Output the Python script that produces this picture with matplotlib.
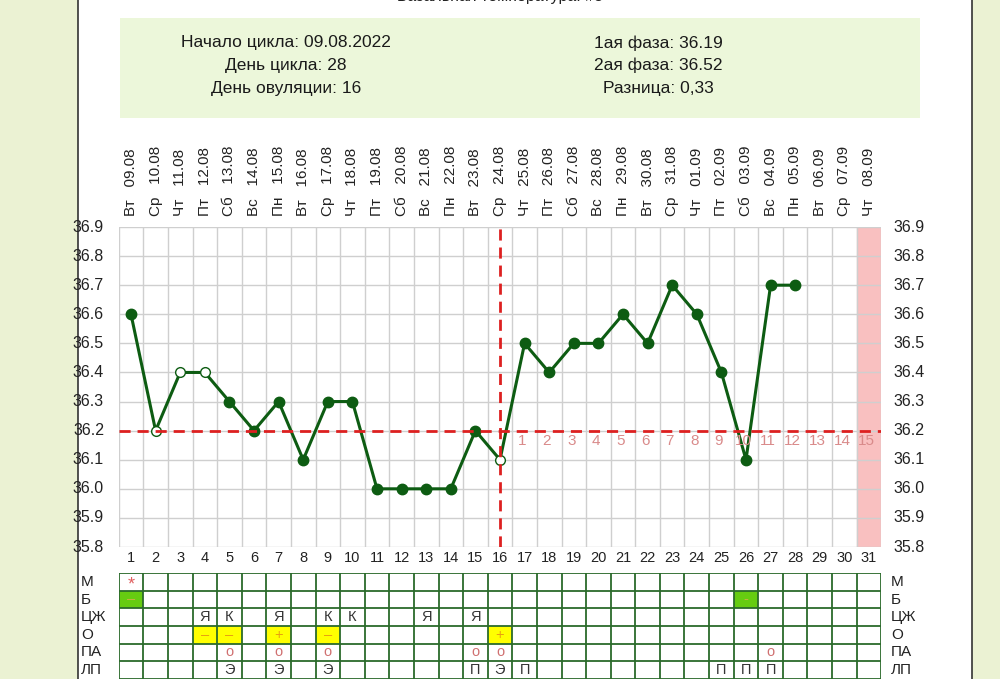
import matplotlib.pyplot as plt
from matplotlib.patches import Rectangle

plt.rcParams["font.family"] = ["Liberation Sans", "DejaVu Sans"]

# данные графика
days = list(range(1, 32))
weekdays = ["Вт", "Ср", "Чт", "Пт", "Сб", "Вс", "Пн",
            "Вт", "Ср", "Чт", "Пт", "Сб", "Вс", "Пн",
            "Вт", "Ср", "Чт", "Пт", "Сб", "Вс", "Пн",
            "Вт", "Ср", "Чт", "Пт", "Сб", "Вс", "Пн",
            "Вт", "Ср", "Чт"]
dates = ["09.08", "10.08", "11.08", "12.08", "13.08", "14.08", "15.08",
         "16.08", "17.08", "18.08", "19.08", "20.08", "21.08", "22.08",
         "23.08", "24.08", "25.08", "26.08", "27.08", "28.08", "29.08",
         "30.08", "31.08", "01.09", "02.09", "03.09", "04.09", "05.09",
         "06.09", "07.09", "08.09"]
temps = [36.6, 36.2, 36.4, 36.4, 36.3, 36.2, 36.3, 36.1, 36.3, 36.3,
         36.0, 36.0, 36.0, 36.0, 36.2, 36.1, 36.5, 36.4, 36.5, 36.5,
         36.6, 36.5, 36.7, 36.6, 36.4, 36.1, 36.7, 36.7]
open_days = [2, 3, 4, 16]
cover_line = 36.2
ovulation_day = 16
highlight_day = 31
yticks = [36.9, 36.8, 36.7, 36.6, 36.5, 36.4, 36.3, 36.2, 36.1, 36.0, 35.9, 35.8]

info_left = ["Начало цикла: 09.08.2022", "День цикла: 28", "День овуляции: 16"]
info_right = ["1ая фаза: 36.19", "2ая фаза: 36.52", "Разница: 0,33"]

row_labels = ["М", "Б", "ЦЖ", "О", "ПА", "ЛП"]
m_marks = {1: "*"}
b_marks = {1: "–", 26: "-"}
czh_marks = {4: "Я", 5: "К", 7: "Я", 9: "К", 10: "К", 13: "Я", 15: "Я"}
o_marks = {4: "–", 5: "–", 7: "+", 9: "–", 16: "+"}
pa_marks = {5: "o", 7: "o", 9: "o", 15: "o", 16: "o", 27: "o"}
lp_marks = {5: "Э", 7: "Э", 9: "Э", 15: "П", 16: "Э", 17: "П",
            25: "П", 26: "П", 27: "П"}

W, H = 1000, 679
GREEN = "#0d5c12"
RED = "#dd2020"
PINK_TXT = "#d98a8a"


def fx(x):
    return x / W


def fy(y):
    return 1 - y / H


fig = plt.figure(figsize=(10, 6.79), dpi=100)
fig.patch.set_facecolor("white")

# фон страницы и рамка панели
fig.patches.append(Rectangle((0, 0), fx(78), 1, transform=fig.transFigure,
                             facecolor="#ebf2d3", edgecolor="none", zorder=0))
fig.patches.append(Rectangle((fx(972), 0), 1 - fx(972), 1, transform=fig.transFigure,
                             facecolor="#ebf2d3", edgecolor="none", zorder=0))
for xb in (78, 972):
    fig.add_artist(plt.Line2D([fx(xb), fx(xb)], [0, 1], transform=fig.transFigure,
                              color="#333333", lw=1.2))

fig.text(fx(500), fy(-3), "Базальная температура: #3", ha="center", va="center",
         fontsize=11.5, color="#222222")

# инфо-блок
fig.patches.append(Rectangle((fx(120), fy(118)), fx(920) - fx(120), fy(18) - fy(118),
                             transform=fig.transFigure, facecolor="#ecf7da",
                             edgecolor="none", zorder=0))
for i, (tl, tr) in enumerate(zip(info_left, info_right)):
    yy = fy(43 + i * 22.5)
    fig.text(fx(286), yy, tl, ha="center", va="center", fontsize=12.5, color="#1a1a1a")
    fig.text(fx(658), yy, tr, ha="center", va="center", fontsize=12.5, color="#1a1a1a")

# основной график
ax = fig.add_axes([fx(118.7), fy(547), fx(881.3) - fx(118.7), fy(227) - fy(547)])
ax.set_xlim(0.5, 31.5)
ax.set_ylim(35.8, 36.9)
for s in ax.spines.values():
    s.set_visible(False)
ax.set_xticks([])
ax.set_yticks([])

ax.axvspan(highlight_day - 0.5, highlight_day + 0.5, color="#f9c0c0", zorder=0)
for k in range(32):
    ax.axvline(k + 0.5, color="#cfcfcf", lw=1, zorder=1)
for t in yticks:
    ax.axhline(t, color="#cfcfcf", lw=1, zorder=1)

x_t = days[:len(temps)]
ax.plot(x_t, temps, color=GREEN, lw=2.2, zorder=3)
filled = [(d, t) for d, t in zip(x_t, temps) if d not in open_days]
hollow = [(d, t) for d, t in zip(x_t, temps) if d in open_days]
ax.plot([d for d, _ in filled], [t for _, t in filled], "o", color=GREEN,
        ms=7.5, zorder=4)
ax.plot([d for d, _ in hollow], [t for _, t in hollow], "o", mfc="white",
        mec=GREEN, mew=1, ms=7, zorder=4)

ax.axhline(cover_line, color=RED, lw=2, ls=(0, (4, 2.5)), zorder=5)
ax.axvline(ovulation_day, color=RED, lw=2, ls=(0, (4, 2.5)), zorder=5)

for n, d in enumerate(days[ovulation_day:], start=1):
    ax.text(d - 0.1, cover_line - 0.013, str(n), ha="center", va="top",
            fontsize=11, color=PINK_TXT, zorder=6)

# подписи осей
for t in yticks:
    yy = ax.transData.transform((0, t))[1] / H
    fig.text(fx(104), yy, f"{t:.1f}", ha="right", va="center", fontsize=11.5,
             color="#222222")
    fig.text(fx(893), yy, f"{t:.1f}", ha="left", va="center", fontsize=11.5,
             color="#222222")

for d, wd, dt in zip(days, weekdays, dates):
    xd = ax.transData.transform((d, 0))[0] / W
    fig.text(xd, fy(216), f"{wd}   {dt}", rotation=90, ha="center", va="bottom",
             fontsize=11, color="#222222")
    fig.text(xd, fy(558), str(d), ha="center", va="center", fontsize=10.5,
             color="#222222")

# таблица признаков
tab = fig.add_axes([fx(118.7), fy(679), fx(881.3) - fx(118.7), fy(573) - fy(679)])
tab.set_xlim(0.5, 31.5)
tab.set_ylim(6, 0)
tab.set_xticks([])
tab.set_yticks([])
for s in tab.spines.values():
    s.set_visible(False)

fills = [(1, 1, "#66cc11"), (26, 1, "#66cc11")] + [(d, 3, "#ffff00") for d in o_marks]
for d, r, c in fills:
    tab.add_patch(Rectangle((d - 0.5, r), 1, 1, facecolor=c, edgecolor="none", zorder=1))

for k in range(32):
    tab.axvline(k + 0.5, color="#2b6a2b", lw=1.3, zorder=2)
for r in range(7):
    tab.axhline(r, color="#2b6a2b", lw=1.3, zorder=2)

rows = [(m_marks, "#e06060"), (b_marks, "#c8b040"), (czh_marks, "#333333"),
        (o_marks, "#e8a010"), (pa_marks, "#d07070"), (lp_marks, "#333333")]
for r, (marks, col) in enumerate(rows):
    for d, s in marks.items():
        size = 13 if s == "*" else 10.5
        dy = 0.2 if s == "*" else 0.0
        tab.text(d, r + 0.5 + dy, s, ha="center", va="center", fontsize=size,
                 color=col, zorder=3)

for r, lab in enumerate(row_labels):
    yy = fy(573 + (r + 0.5) * (106 / 6))
    fig.text(fx(81), yy, lab, ha="left", va="center", fontsize=11, color="#222222")
    fig.text(fx(891), yy, lab, ha="left", va="center", fontsize=11, color="#222222")

fig.savefig("out.png", dpi=100)
